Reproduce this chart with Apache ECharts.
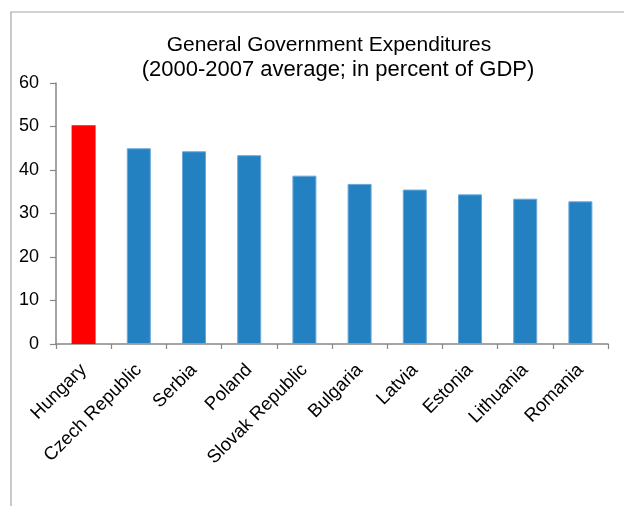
<!DOCTYPE html>
<html>
<head>
<meta charset="utf-8">
<script src="https://cdn.jsdelivr.net/npm/echarts@6/dist/echarts.min.js"></script>
<style>
  html, body { margin: 0; padding: 0; background: #fff; }
  #chart { width: 624px; height: 506px; }
</style>
</head>
<body>
<div id="chart"></div>
<script>
// General government expenditures, 2000-2007 average, percent of GDP
const countries = ['Hungary', 'Czech Republic', 'Serbia', 'Poland', 'Slovak Republic',
                   'Bulgaria', 'Latvia', 'Estonia', 'Lithuania', 'Romania'];
const expenditures = [50.3, 45.0, 44.3, 43.4, 38.7, 36.8, 35.5, 34.4, 33.4, 32.8];
const highlighted = 'Hungary';
const yTicks = [0, 10, 20, 30, 40, 50, 60];
const titleLines = ['General Government Expenditures', '(2000-2007 average; in percent of GDP)'];

const font = 'Liberation Sans, Arial, sans-serif';
const chart = echarts.init(document.getElementById('chart'), null, { renderer: 'canvas' });

const titleStyle = size => ({ fontFamily: font, fontSize: size, fontWeight: 'normal', color: '#000', lineHeight: 24 });

chart.setOption({
  animation: false,
  backgroundColor: '#fff',
  title: [
    { text: titleLines[0], left: 329, top: 33, textAlign: 'center', padding: 0, textStyle: titleStyle(21) },
    { text: titleLines[1], left: 338, top: 58, textAlign: 'center', padding: 0, textStyle: titleStyle(22) }
  ],
  graphic: [{
    type: 'rect',
    shape: { x: 11, y: 12, width: 700, height: 600 },
    style: { fill: null, stroke: '#a6a6a6', lineWidth: 1.2 },
    silent: true
  }],
  grid: { left: 56, right: 16, top: 83, bottom: 162 },
  xAxis: {
    type: 'category',
    data: countries,
    axisLine: { lineStyle: { color: '#868686', width: 1.5 } },
    axisTick: { show: true, length: 5, alignWithLabel: false, lineStyle: { color: '#868686', width: 1.2 } },
    axisLabel: { rotate: 45, interval: 0, margin: 23, fontFamily: font, fontSize: 18.5, color: '#000' }
  },
  yAxis: {
    type: 'value',
    min: yTicks[0],
    max: yTicks[yTicks.length - 1],
    interval: yTicks[1] - yTicks[0],
    splitLine: { show: false },
    axisLine: { show: true, lineStyle: { color: '#868686', width: 1.5 } },
    axisTick: { show: true, length: 6, lineStyle: { color: '#868686', width: 1.2 } },
    axisLabel: { margin: 17, fontFamily: font, fontSize: 18, color: '#000' }
  },
  series: [{
    type: 'bar',
    barWidth: 24,
    data: countries.map((c, i) => ({
      value: expenditures[i],
      itemStyle: c === highlighted
        ? { color: '#ff0000' }
        : { color: '#2381c2', borderColor: '#6aa8d8', borderWidth: 1 }
    }))
  }]
});
</script>
</body>
</html>
